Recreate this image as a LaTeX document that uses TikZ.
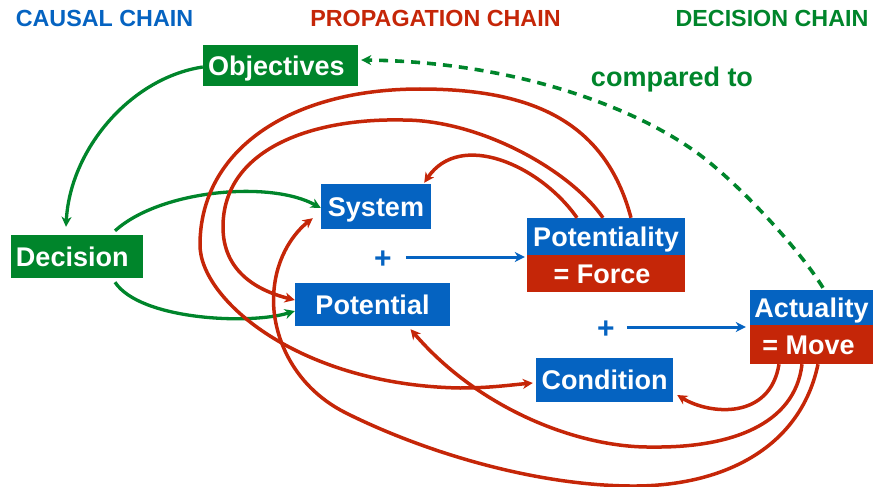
\documentclass[tikz,border=0pt]{standalone}
\usepackage{fontspec}
\setmainfont{Liberation Sans}
\usetikzlibrary{arrows.meta}
\definecolor{cblue}{RGB}{5,99,193}
\definecolor{cgreen}{RGB}{0,133,43}
\definecolor{cred}{RGB}{197,38,8}
\begin{document}
\begin{tikzpicture}[x=1pt,y=-1pt,
  box/.style={inner sep=0pt,text=white,font=\bfseries\fontsize{27}{27}\selectfont,
    text height=19.3pt,text depth=0pt},
  bbox/.style={box,fill=cblue},
  gbox/.style={box,fill=cgreen},
  rbox/.style={box,fill=cred},
  title/.style={anchor=base,inner sep=0pt,font=\bfseries\fontsize{23.3}{23.3}\selectfont},
  plus/.style={inner sep=0pt,text=cblue,font=\bfseries\fontsize{30}{30}\selectfont},
  tip/.style={-{Stealth[length=10pt,width=10pt,inset=3pt]}},
  redline/.style={draw=cred,line width=3.5pt,tip},
  greenline/.style={draw=cgreen,line width=3.3pt,tip},
  blueline/.style={draw=cblue,line width=3pt,tip},
  dashline/.style={draw=cgreen,line width=3.6pt,dash pattern=on 9pt off 7pt,tip}
]
\useasboundingbox (0,0) rectangle (873,487);

% titles
\node[title,text=cblue] (t1) at (104.5,27) {CAUSAL CHAIN};
\node[title,text=cred] (t2) at (435.5,27) {PROPAGATION CHAIN};
\node[title,text=cgreen] (t3) at (772,27) {DECISION CHAIN};

% boxes
\node[gbox,minimum width=155pt,minimum height=41pt,inner xsep=5pt,text width=145pt,align=left] (obj) at (280.5,65.5) {Objectives};
\node[gbox,minimum width=132pt,minimum height=43pt,inner xsep=5pt,text width=122pt,align=left] (dec) at (77,256.5) {Decision};
\node[bbox,minimum width=110pt,minimum height=45pt] (sys) at (376,206.5) {System};
\node[bbox,minimum width=155pt,minimum height=43pt] (pot) at (372.5,304.5) {Potential};
\node[bbox,minimum width=158pt,minimum height=37pt] (pty) at (606,236.5) {Potentiality};
\node[rbox,minimum width=158pt,minimum height=37pt] (force) at (606,273.5) {\hspace*{-8pt}= Force};
\node[bbox,minimum width=123pt,minimum height=35pt] (act) at (811.5,307.5) {Actuality};
\node[rbox,minimum width=123pt,minimum height=39pt] (move) at (811.5,344.5) {\hspace*{-6pt}= Move};
\node[bbox,minimum width=137pt,minimum height=44pt] (cond) at (604.5,380) {Condition};

% plus signs
\node[plus] (p1) at (383,260) {+};
\node[plus] (p2) at (606,330) {+};

\node[anchor=base,inner sep=0pt,text=cgreen,font=\bfseries\fontsize{27}{27}\selectfont] (cmp) at (672,87) {compared to};

% blue arrows
\draw[blueline] ([xshift=14pt,yshift=3pt]p1.east) -- ([xshift=-2pt,yshift=-20.5pt]pty.west);
\draw[blueline] ([xshift=12pt,yshift=3pt]p2.east) -- ([xshift=-4pt,yshift=-19.5pt]act.west);

% green arrows
\draw[greenline] ([yshift=-1.5pt]obj.west) .. controls (130,78) and (70,150) .. ([xshift=-11pt,yshift=8pt]dec.north);
\draw[greenline] ([xshift=38pt,yshift=4pt]dec.north) .. controls (160,190) and (270,180) .. ([yshift=-1.5pt]sys.west);
\draw[greenline] ([xshift=38pt,yshift=-4pt]dec.south) .. controls (140,320) and (250,325) .. ([yshift=-6.5pt]pot.west);

% dashed green
\draw[dashline] ([xshift=11.5pt,yshift=2pt]act.north) .. controls (800,250) and (740,185) .. (700,155)
   .. controls (640,110) and (520,62) .. ([xshift=3pt,yshift=5.5pt]obj.east);

% red curves from Potentiality
\draw[redline] ([xshift=-29pt]pty.north) .. controls (540,165) and (460,130) .. ([xshift=-7pt,yshift=1pt]sys.north east);
\draw[redline] ([xshift=-3pt]pty.north) .. controls (570,170) and (480,120) .. (403,120)
   .. controls (310,118) and (223,150) .. (223,227)
   .. controls (223,270) and (255,290) .. ([yshift=4.5pt]pot.west);
\draw[redline] ([xshift=25pt]pty.north) .. controls (605,120) and (530,89) .. (420,89)
   .. controls (290,89) and (200,150) .. (200,245)
   .. controls (200,300) and (300,385) .. (460,388)
   .. controls (490,388) and (510,385) .. ([xshift=-3pt,yshift=-3pt]cond.west);

% red curves from Actuality
\draw[redline] ([xshift=-32.5pt]move.south) .. controls (770,420) and (710,415) .. ([xshift=4pt,yshift=-15pt]cond.east);
\draw[redline] ([xshift=-9.5pt]move.south) .. controls (795,425) and (730,448) .. (652,447)
   .. controls (580,448) and (480,410) .. ([xshift=38pt,yshift=-3pt]pot.south);
\draw[redline] ([xshift=6.5pt]move.south) .. controls (800,450) and (720,487) .. (630,486)
   .. controls (530,485) and (420,450) .. (346,413)
   .. controls (290,385) and (270,330) .. (274,290)
   .. controls (277,255) and (295,232) .. ([xshift=-8pt,yshift=11pt]sys.south west);
\end{tikzpicture}
\end{document}
